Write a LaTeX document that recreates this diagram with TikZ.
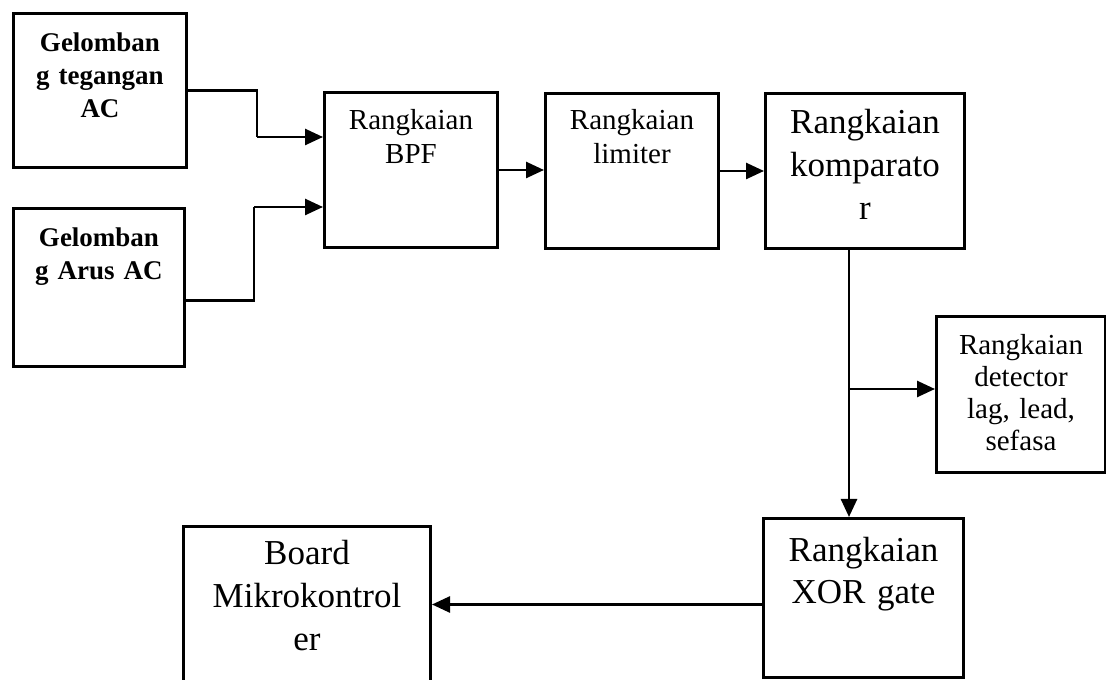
\documentclass[tikz,border=0pt]{standalone}
\usepackage{fontspec}
\setmainfont{Liberation Serif}
\usepackage{tikz}
\usetikzlibrary{arrows.meta,calc}

\begin{document}
\begin{tikzpicture}[
    x=1pt, y=1pt,
    box/.style={rectangle, draw=black, line width=3pt, anchor=north west, align=center, inner xsep=0pt, inner ysep=0pt},
    conn/.style={line width=2.6pt, -{Triangle[length=18pt,width=16pt]}},
    wire/.style={line width=2.6pt}
]
\useasboundingbox (0,0) rectangle (1106,680);

% sumber gelombang
\node[box, text width=173pt, text height=38pt, text depth=116pt,
      font=\fontsize{27}{33}\selectfont\bfseries] (tegangan) at (12,668) {Gelomban\\g tegangan\\AC};
\node[box, text width=171pt, text height=38pt, text depth=120pt,
      font=\fontsize{27}{33}\selectfont\bfseries] (arus) at (12,473) {Gelomban\\g Arus AC};

% rangkaian pengolah
\node[box, text width=173pt, text height=37pt, text depth=118pt,
      font=\fontsize{29}{34}\selectfont] (bpf) at (323,589) {Rangkaian\\BPF};
\node[box, text width=173pt, text height=36pt, text depth=119pt,
      font=\fontsize{29}{34}\selectfont] (limiter) at (544,588) {Rangkaian\\limiter};
\node[box, text width=199pt, text height=40pt, text depth=115pt,
      font=\fontsize{35}{43}\selectfont] (komparator) at (764,588) {Rangkaian\\komparato\\r};
\node[box, text width=169pt, text height=38pt, text depth=118pt,
      font=\fontsize{29}{32}\selectfont] (detector) at (935,365) {Rangkaian\\detector\\lag, lead,\\sefasa};
\node[box, text width=200pt, text height=43pt, text depth=116pt,
      font=\fontsize{35}{42}\selectfont] (xor) at (762,163) {Rangkaian\\XOR gate};
\node[box, text width=247pt, text height=38pt, text depth=137pt,
      font=\fontsize{35}{43}\selectfont] (board) at (182,155) {Board\\Mikrokontrol\\er};

% titik belok
\coordinate (belok1) at (257,543);
\coordinate (belok2) at (254,473);
\coordinate (turun) at (849,0);
\coordinate (cabang) at (849,291);

\draw[wire] (tegangan.east) -| (belok1);
\draw[conn] (belok1) -- (belok1 -| bpf.west);
\draw[wire] ([yshift=-13pt]arus.east) -| (belok2);
\draw[conn] (belok2) -- (belok2 -| bpf.west);
\draw[conn] (bpf.east) -- (bpf.east -| limiter.west);
\draw[conn] (limiter.east) -- (limiter.east -| komparator.west);
\draw[conn] (komparator.south -| turun) -- (xor.north -| turun);
\draw[conn] (cabang) -- (cabang -| detector.west);
\draw[conn] ([yshift=-6.5pt]xor.west) -- ([yshift=-6.5pt]xor.west -| board.east);
\end{tikzpicture}
\end{document}
